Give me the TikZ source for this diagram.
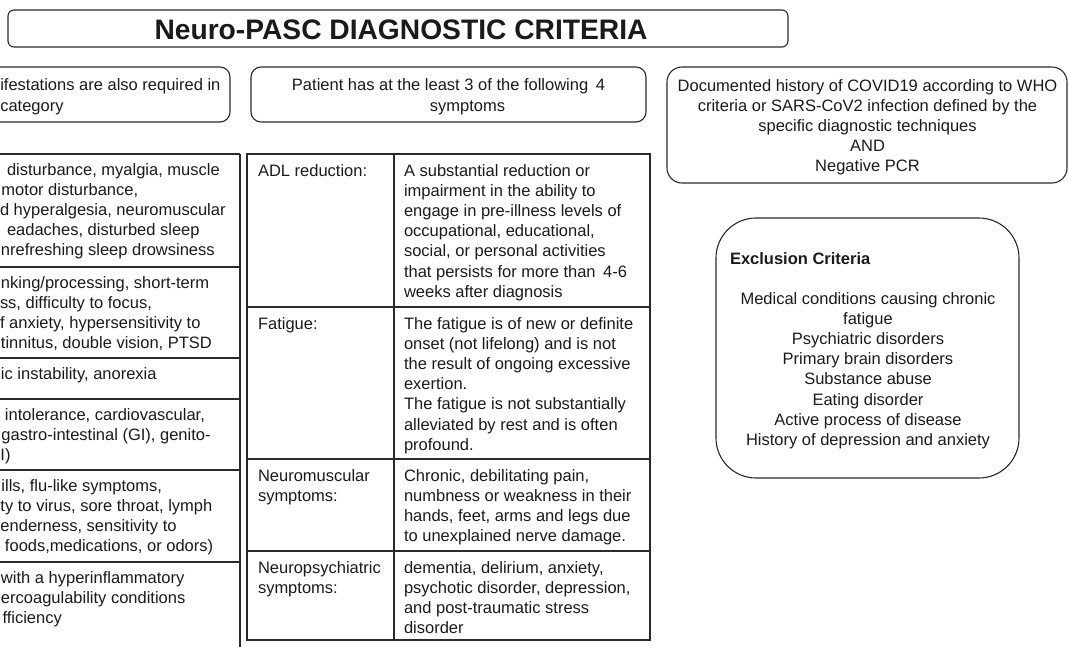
\documentclass[tikz,border=0pt]{standalone}
\usepackage{fontspec}
\setmainfont{Liberation Sans}
\definecolor{ln}{HTML}{2A2A2A}
\definecolor{tx}{HTML}{1A1A1A}
\newcommand{\fs}{\fontsize{16.5}{20.2}\selectfont}
\newcommand{\fsb}{\fontsize{16.5}{21}\selectfont}
\newcommand{\st}{\rule{0pt}{13pt}}
\begin{document}
\begin{tikzpicture}[x=1pt,y=-1pt,
  every node/.style={inner sep=0pt,outer sep=0pt,text=tx},
  boxline/.style={draw=ln,line width=1.1pt},
  tblline/.style={draw=ln,line width=1.4pt},
  cell/.style={anchor=north west,align=left,font=\fs},
  ctext/.style={anchor=north,align=center,font=\fs}]
\useasboundingbox (0,0) rectangle (1069,646);
\clip (0,0) rectangle (1069,646);

% ---------- title ----------
\draw[boxline,rounded corners=6pt] (8,10) rectangle (788,47);
\node[anchor=base,font=\bfseries\fontsize{28.2}{30}\selectfont] (title) at (401,39.5) {Neuro-PASC DIAGNOSTIC CRITERIA};

% ---------- header boxes ----------
\draw[boxline,rounded corners=10pt] (-30,67) rectangle (230,122);
\node[anchor=north west,align=left,font=\fsb] (manif) at (0.3,77) {\st ifestations are also required in\\category};

\draw[boxline,rounded corners=10pt] (251,67) rectangle (646,122);
\node[anchor=north,align=center,font=\fsb] (patient) at (448.5,77) {\st Patient has at the least 3 of the following\hspace{3pt} 4\\\hspace*{38pt}symptoms};

\draw[boxline,rounded corners=15pt] (667,67) rectangle (1067,183);
\node[anchor=north,align=center,font=\fontsize{16.5}{20}\selectfont] (covid) at (867.5,78) {\st Documented history of COVID19 according to WHO\\criteria or SARS-CoV2 infection defined by the\\specific diagnostic techniques\\AND\\Negative PCR};

% ---------- exclusion box ----------
\draw[boxline,rounded corners=40pt] (716,218) rectangle (1019,478);
\node[anchor=base west,font=\bfseries\fontsize{16.5}{20}\selectfont] (exhead) at (730,264) {Exclusion Criteria};
\node[ctext] (exlist) at (868,291) {\st Medical conditions causing chronic\\fatigue\\Psychiatric disorders\\Primary brain disorders\\Substance abuse\\Eating disorder\\Active process of disease\\History of depression and anxiety};

% ---------- left table (cut) ----------
\draw[tblline] (-5,154) -- (240,154);
\draw[tblline] (240,154) -- (240,650);
\foreach \yy in {267,358,399,470,562}{\draw[tblline] (-5,\yy) -- (240,\yy);}
\node[cell] (l1) at (0,162) {\st\hspace*{7pt}disturbance, myalgia, muscle\\
\hspace*{1.5pt}motor disturbance,\\
\hspace*{0pt}d hyperalgesia, neuromuscular\\
\hspace*{7pt}eadaches, disturbed sleep\\
\hspace*{1pt}nrefreshing sleep drowsiness};
\node[cell] (l2) at (0,275) {\st\hspace*{1pt}nking/processing, short-term\\
\hspace*{0pt}ss, difficulty to focus,\\
\hspace*{0pt}f anxiety, hypersensitivity to\\
\hspace*{1pt}tinnitus, double vision, PTSD};
\node[cell] (l3) at (0,366) {\st\hspace*{1pt}ic instability, anorexia};
\node[cell] (l4) at (0,407) {\st\hspace*{5pt}intolerance, cardiovascular,\\
\hspace*{1.5pt}gastro-intestinal (GI), genito-\\
\hspace*{0.5pt}I)};
\node[cell] (l5) at (0,478) {\st\hspace*{1.5pt}ills, flu-like symptoms,\\
\hspace*{0.5pt}ty to virus, sore throat, lymph\\
\hspace*{0.5pt}enderness, sensitivity to\\
\hspace*{5pt}foods,medications, or odors)};
\node[cell] (l6) at (0,570) {\st\hspace*{1pt}with a hyperinflammatory\\
\hspace*{1pt}ercoagulability conditions\\
\hspace*{2.5pt}fficiency};

% ---------- middle table ----------
\draw[tblline] (247,154) rectangle (650,640);
\draw[tblline] (394,154) -- (394,640);
\foreach \yy in {307,459,551}{\draw[tblline] (247,\yy) -- (650,\yy);}

\node[cell] (adl) at (258,163) {\st ADL reduction:};
\node[cell] (adlt) at (404,163) {\st A substantial reduction or\\
impairment in the ability to\\
engage in pre-illness levels of\\
occupational, educational,\\
social, or personal activities\\
that persists for more than\hspace{3pt} 4-6\\
weeks after diagnosis};

\node[cell] (fat) at (258,316) {\st Fatigue:};
\node[cell] (fatt) at (404,316) {\st The fatigue is of new or definite\\
onset (not lifelong) and is not\\
the result of ongoing excessive\\
exertion.\\
The fatigue is not substantially\\
alleviated by rest and is often\\
profound.};

\node[cell] (nm) at (258,468) {\st Neuromuscular\\symptoms:};
\node[cell] (nmt) at (404,468) {\st Chronic, debilitating pain,\\
numbness or weakness in their\\
hands, feet, arms and legs due\\
to unexplained nerve damage.};

\node[cell] (np) at (258,560) {\st Neuropsychiatric\\symptoms:};
\node[cell] (npt) at (404,560) {\st dementia, delirium, anxiety,\\
psychotic disorder, depression,\\
and post-traumatic stress\\
disorder};
\end{tikzpicture}
\end{document}
